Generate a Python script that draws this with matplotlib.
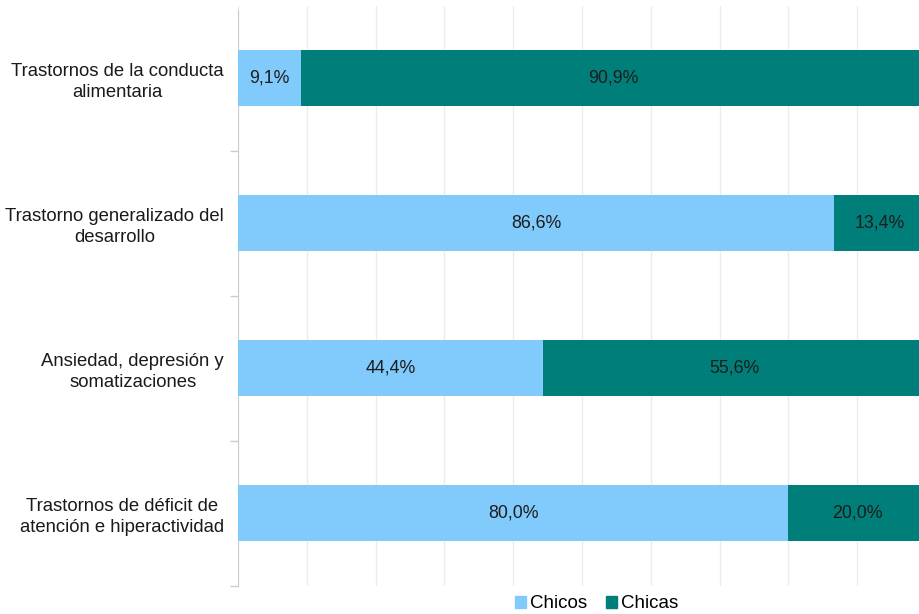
import matplotlib
matplotlib.use("Agg")
import matplotlib.pyplot as plt
import numpy as np
from matplotlib.patches import Patch

plt.rcParams['font.family'] = ['Liberation Sans', 'DejaVu Sans']

categories = [
    "Trastornos de la conducta\nalimentaria",
    "Trastorno generalizado del\ndesarrollo",
    "Ansiedad, depresión y\nsomatizaciones",
    "Trastornos de déficit de\natención e hiperactividad",
]
chicos = [9.1, 86.6, 44.4, 80.0]
chicas = [90.9, 13.4, 55.6, 20.0]
series_names = ["Chicos", "Chicas"]
colors = ["#80CAFC", "#007F7A"]

fig = plt.figure(figsize=(9.2, 6.14), dpi=100)
top_px, bot_px = 5.5, 585.5
ax = fig.add_axes([238/920, 1-bot_px/614, (926-238)/920, (bot_px-top_px)/614])

y = np.arange(len(categories))
h = 0.39
ax.barh(y, chicos, height=h, color=colors[0], zorder=3)
ax.barh(y, chicas, left=chicos, height=h, color=colors[1], zorder=3)

for i in range(len(categories)):
    ax.text(chicos[i]/2, y[i], f"{chicos[i]:.1f}%".replace('.', ','),
            ha='center', va='center', fontsize=12.8, color='#1c1c1c', zorder=4)
    ax.text(chicos[i] + chicas[i]/2, y[i], f"{chicas[i]:.1f}%".replace('.', ','),
            ha='center', va='center', fontsize=12.8, color='#1c1c1c', zorder=4)

ax.set_xlim(0, 100)
ax.set_ylim(len(categories)-0.5, -0.5)
ax.set_xticks(np.arange(0, 101, 10))
ax.tick_params(axis='x', length=0, labelbottom=False)
ax.grid(axis='x', color='#ececec', linewidth=1, zorder=0)

# category labels at band centres, ticks at band boundaries
ax.set_yticks(y)
ax.set_yticklabels(categories, fontsize=13.3, color='#1a1a1a',
                   multialignment='center', linespacing=1.3)
ax.tick_params(axis='y', which='major', length=0, pad=10)
ax.set_yticks(np.arange(0.5, len(categories), 1.0), minor=True)
ax.tick_params(axis='y', which='minor', length=6, color='#cccccc', width=1)

for s in ['top', 'right', 'bottom']:
    ax.spines[s].set_visible(False)
ax.spines['left'].set_color('#cccccc')
ax.spines['left'].set_bounds(len(categories)-0.5, -0.47)

handles = [Patch(color=colors[0], label=series_names[0]),
           Patch(color=colors[1], label=series_names[1])]
fig.legend(handles=handles, loc='center', bbox_to_anchor=(597/920, 1-604/614),
           ncol=2, frameon=False, fontsize=13.5, handlelength=0.55, handleheight=0.55,
           handletextpad=0.25, columnspacing=1.0, borderpad=0)

fig.savefig("out.png", dpi=100)
